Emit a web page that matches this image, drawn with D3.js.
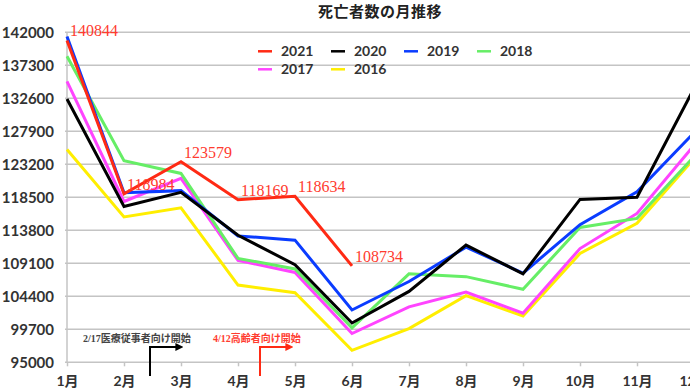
<!DOCTYPE html>
<html>
<head>
<meta charset="utf-8">
<script src="https://cdn.jsdelivr.net/npm/d3@7"></script>
<style>
    body { margin: 0; background: #fff; }
    svg { display: block; }
    .tick text { font-family: Lato, "Noto Sans CJK JP", sans-serif; font-weight: bold; fill: #333; }
</style>
</head>
<body>
<svg id="chart" width="690" height="388"></svg>
<script>
const months = ["1月", "2月", "3月", "4月", "5月", "6月", "7月", "8月", "9月", "10月", "11月", "12月"];
const yTicks = [95000, 99700, 104400, 109100, 113800, 118500, 123200, 127900, 132600, 137300, 142000];

const s2021 = [140844, 118984, 123579, 118169, 118634, 108734];
const s2020 = [132500, 117200, 119200, 113100, 108900, 100600, 105100, 111700, 107600, 118200, 118500, 134000];
const s2019 = [141400, 119150, 119450, 113000, 112400, 102450, 106500, 111400, 107700, 114600, 119300, 127700];
const s2018 = [138600, 123700, 121900, 109800, 108300, 99900, 107600, 107200, 105400, 114200, 115500, 124300];
const s2017 = [135000, 117900, 121200, 109500, 107800, 99100, 102900, 105000, 102000, 111200, 116200, 125900];
const s2016 = [125300, 115700, 117000, 106000, 104900, 96700, 99800, 104500, 101600, 110500, 114800, 124000];

const seriesNames = ["2021", "2020", "2019", "2018", "2017", "2016"];
const seriesData = [s2021, s2020, s2019, s2018, s2017, s2016];
const seriesColors = ["#ff2a14", "#000000", "#0a3cff", "#66ee66", "#ff44ff", "#ffee00"];

function buildChart() {
    const left = 67, right = 694, top = 32.3, bottom = 362.3;
    const svg = d3.select("#chart");

    const xs = d3.scalePoint().domain(months).range([left, right]);
    const ys = d3.scaleLinear().domain([95000, 142000]).range([bottom, top]);

    // grid
    svg.append("g").selectAll("line").data(yTicks).enter().append("line")
        .attr("x1", left - 2).attr("x2", 690)
        .attr("y1", d => ys(d)).attr("y2", d => ys(d))
        .attr("stroke", "#c4c4c4").attr("stroke-width", 1.5);
    svg.append("line").attr("x1", left).attr("x2", left).attr("y1", top).attr("y2", bottom)
        .attr("stroke", "#c4c4c4").attr("stroke-width", 1.5);

    // axes
    const yAxis = svg.append("g").attr("transform", `translate(${left}, 0)`)
        .call(d3.axisLeft(ys).tickValues(yTicks).tickFormat(d => d).tickSize(0).tickPadding(13));
    yAxis.select(".domain").remove();
    yAxis.selectAll("text").style("font-size", "15px");

    const xAxis = svg.append("g").attr("transform", `translate(0, ${bottom})`)
        .call(d3.axisBottom(xs).tickSize(4).tickPadding(10));
    xAxis.select(".domain").remove();
    xAxis.selectAll("line").attr("stroke", "#c4c4c4").attr("stroke-width", 1.5);
    xAxis.selectAll("text").style("font-size", "14px");

    // lines, oldest first so 2021 ends on top
    const line = d3.line().x((d, i) => xs(months[i])).y(d => ys(d));
    for (let i = seriesData.length - 1; i >= 0; i--) {
        svg.append("path").attr("d", line(seriesData[i]))
            .attr("fill", "none").attr("stroke", seriesColors[i])
            .attr("stroke-width", 3).attr("stroke-linejoin", "miter");
    }

    // 2021 value labels
    svg.append("g").selectAll("text").data(s2021).enter().append("text")
        .attr("x", (d, i) => xs(months[i]) + 3)
        .attr("y", d => ys(d) - 4)
        .text(d => d)
        .attr("fill", "#ff3b2f")
        .style("font-family", "'Liberation Serif', serif")
        .style("font-size", "16px");

    // title
    svg.append("text").attr("x", 380).attr("y", 17).attr("text-anchor", "middle")
        .text("死亡者数の月推移")
        .style("font-family", "'Noto Sans CJK JP', sans-serif")
        .style("font-weight", "bold").style("font-size", "15px")
        .style("letter-spacing", "0.5px").attr("fill", "#222");

    // legend
    const legend = svg.append("g").selectAll("g").data(seriesNames).enter().append("g")
        .attr("transform", (d, i) => `translate(${258 + (i % 4) * 73}, ${i < 4 ? 51.3 : 69.3})`);
    legend.append("line").attr("x1", 0).attr("x2", 14).attr("y1", 0).attr("y2", 0)
        .attr("stroke", (d, i) => seriesColors[i]).attr("stroke-width", 2.5);
    legend.append("text").attr("x", 23).attr("y", 5).text(d => d)
        .style("font-family", "Lato, sans-serif").style("font-weight", "bold")
        .style("font-size", "14px").attr("fill", "#333");

    // vaccination annotations
    const notes = [
        { text: "2/17医療従事者向け開始", x: 83, ax: 150, color: "#444" },
        { text: "4/12高齢者向け開始", x: 213, ax: 260, color: "#ff3b2f" }
    ];
    svg.append("defs").selectAll("marker").data(notes).enter().append("marker")
        .attr("id", (d, i) => `arrow${i}`)
        .attr("viewBox", "0 0 10 10").attr("refX", 2).attr("refY", 5)
        .attr("markerWidth", 4).attr("markerHeight", 4).attr("orient", "auto")
        .append("path").attr("d", "M0,0L10,5L0,10Z").attr("fill", (d, i) => i == 0 ? "#000" : "#ff2a14");
    svg.append("g").selectAll("text").data(notes).enter().append("text")
        .attr("x", d => d.x).attr("y", 342)
        .text(d => d.text).attr("fill", d => d.color)
        .style("font-family", "'Liberation Serif', 'Noto Sans CJK JP', serif")
        .style("font-weight", "bold").style("font-size", "10px");
    svg.append("g").selectAll("path").data(notes).enter().append("path")
        .attr("d", d => `M${d.ax},376V347H${d.ax + 27}`)
        .attr("fill", "none").attr("stroke", (d, i) => i == 0 ? "#000" : "#ff2a14")
        .attr("stroke-width", 2)
        .attr("marker-end", (d, i) => `url(#arrow${i})`);
}

buildChart();
</script>
</body>
</html>
